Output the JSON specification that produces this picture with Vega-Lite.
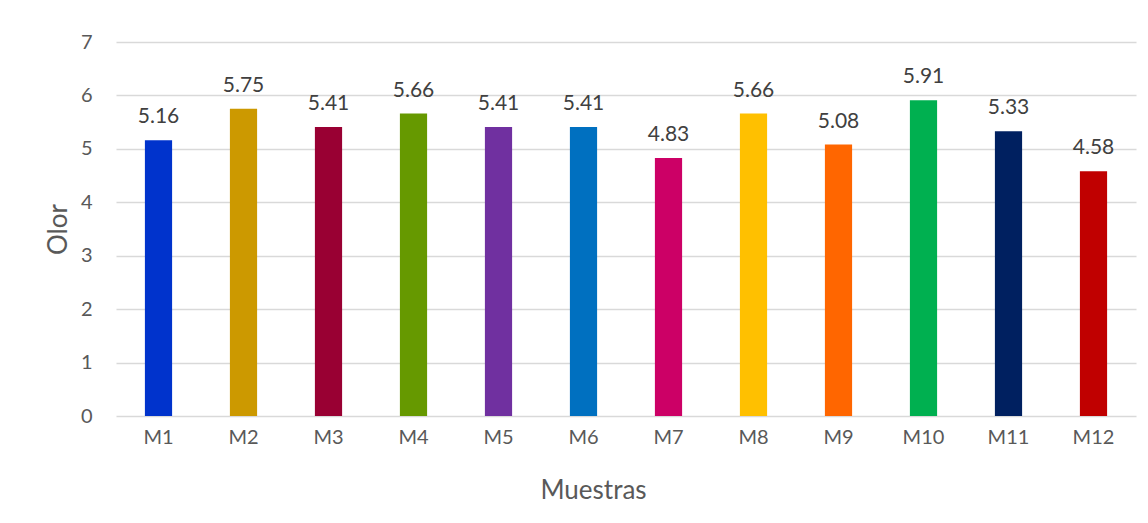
{
  "$schema": "https://vega.github.io/schema/vega-lite/v6.json",
  "width": 1020,
  "height": 374,
  "autosize": {"type": "none"},
  "padding": {"left": 116, "top": 42, "right": 12, "bottom": 107},
  "background": "#ffffff",
  "config": {
    "view": {"stroke": null},
    "font": "Lato",
    "axis": {"labelFont": "Lato", "titleFont": "Lato"}
  },
  "data": {
    "values": [
      {"muestra": "M1", "olor": 5.16, "color": "#0033CC"},
      {"muestra": "M2", "olor": 5.75, "color": "#CC9900"},
      {"muestra": "M3", "olor": 5.41, "color": "#990033"},
      {"muestra": "M4", "olor": 5.66, "color": "#669900"},
      {"muestra": "M5", "olor": 5.41, "color": "#7030A0"},
      {"muestra": "M6", "olor": 5.41, "color": "#0070C0"},
      {"muestra": "M7", "olor": 4.83, "color": "#CC0066"},
      {"muestra": "M8", "olor": 5.66, "color": "#FFC000"},
      {"muestra": "M9", "olor": 5.08, "color": "#FF6600"},
      {"muestra": "M10", "olor": 5.91, "color": "#00B050"},
      {"muestra": "M11", "olor": 5.33, "color": "#002060"},
      {"muestra": "M12", "olor": 4.58, "color": "#C00000"}
    ]
  },
  "encoding": {
    "x": {
      "field": "muestra",
      "type": "nominal",
      "sort": null,
      "scale": {"paddingInner": 0.68, "paddingOuter": 0.34},
      "axis": {
        "title": "Muestras",
        "labelAngle": 0,
        "labelFontSize": 20,
        "labelColor": "#595959",
        "labelPadding": 21,
        "labelBaseline": "middle",
        "ticks": false,
        "domain": false,
        "grid": false,
        "titleFontSize": 26,
        "titleFontWeight": "normal",
        "titleColor": "#595959",
        "titleX": 477,
        "titleY": 74,
        "titleAlign": "center",
        "titleBaseline": "middle"
      }
    },
    "y": {
      "field": "olor",
      "type": "quantitative",
      "scale": {"domain": [0, 7], "nice": false},
      "axis": {
        "title": "Olor",
        "values": [0, 1, 2, 3, 4, 5, 6, 7],
        "format": "d",
        "labelFontSize": 20,
        "labelColor": "#595959",
        "labelPadding": 24,
        "ticks": false,
        "domain": false,
        "grid": true,
        "gridColor": "#D9D9D9",
        "gridWidth": 1.4,
        "titleFontSize": 26,
        "titleFontWeight": "normal",
        "titleColor": "#595959",
        "titleX": -58,
        "titleY": 187,
        "titleAngle": -90,
        "titleBaseline": "middle",
        "titleAlign": "center"
      }
    }
  },
  "layer": [
    {
      "mark": {"type": "bar"},
      "encoding": {
        "color": {"field": "color", "type": "nominal", "scale": null, "legend": null}
      }
    },
    {
      "mark": {"type": "text", "baseline": "alphabetic", "dy": -17, "fontSize": 21, "color": "#404040"},
      "encoding": {
        "text": {"field": "olor", "type": "quantitative", "format": ".2f"}
      }
    }
  ]
}
